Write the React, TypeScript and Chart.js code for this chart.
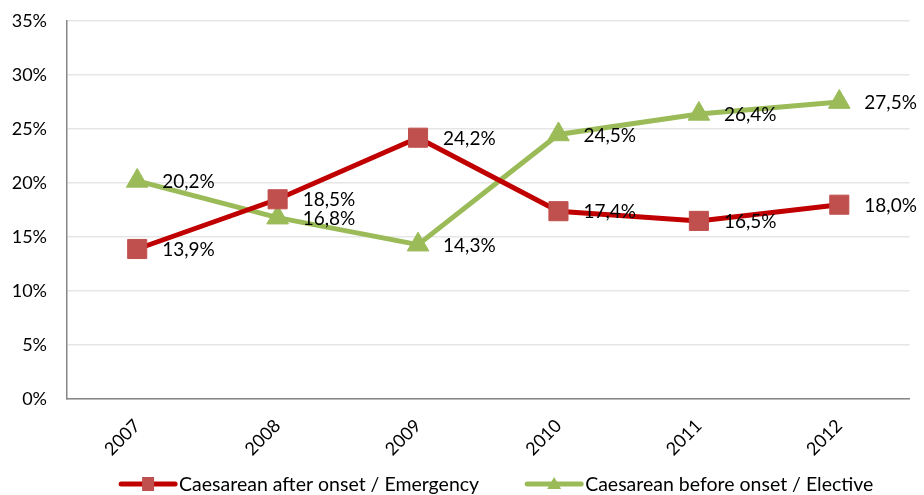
import React, { useEffect, useRef } from 'react';
import { Chart, registerables } from 'chart.js';

Chart.register(...registerables);

const categories = ['2007', '2008', '2009', '2010', '2011', '2012'];
const emergency = [13.9, 18.5, 24.2, 17.4, 16.5, 18.0];
const elective = [20.2, 16.8, 14.3, 24.5, 26.4, 27.5];
const seriesNames = ['Caesarean after onset / Emergency', 'Caesarean before onset / Elective'];

const FONT = 'Lato, "Open Sans", sans-serif';
const RED_LINE = '#C00000';
const RED_MARK = '#C0504D';
const GREEN = '#9BBB59';

const fmt = (v: number) => v.toFixed(1).replace('.', ',') + '%';

const labelPlugin = {
  id: 'pointLabels',
  afterDatasetsDraw(chart: any) {
    const ctx = chart.ctx;
    ctx.save();
    ctx.font = `19px ${FONT}`;
    ctx.fillStyle = '#000';
    ctx.textAlign = 'left';
    ctx.textBaseline = 'middle';
    chart.data.datasets.forEach((ds: any, i: number) => {
      const meta = chart.getDatasetMeta(i);
      meta.data.forEach((pt: any, j: number) => {
        ctx.fillText(fmt(ds.data[j]), pt.x + 25, pt.y + 1);
      });
    });
    ctx.restore();
  },
};

const legendPlugin = {
  id: 'customLegend',
  afterDraw(chart: any) {
    const ctx = chart.ctx;
    const ds = chart.data.datasets;
    ctx.save();
    ctx.font = `19.5px ${FONT}`;
    const sample = 58;
    const gapText = 2;
    const gapItems = 46;
    const widths = ds.map((d: any) => ctx.measureText(d.label).width);
    const total = widths.reduce((a: number, w: number) => a + sample + gapText + w, 0) + gapItems * (ds.length - 1);
    const center = (chart.chartArea.left + chart.chartArea.right) / 2 + 8;
    let x = center - total / 2;
    const y = chart.height - 11;
    ds.forEach((d: any, i: number) => {
      ctx.strokeStyle = d.borderColor;
      ctx.lineWidth = 5;
      ctx.lineCap = 'round';
      ctx.beginPath();
      ctx.moveTo(x + 2, y);
      ctx.lineTo(x + sample - 2, y);
      ctx.stroke();
      ctx.fillStyle = d.pointBackgroundColor;
      const cx = x + sample / 2;
      if (d.pointStyle === 'rect') {
        ctx.fillRect(cx - 6, y - 7, 12, 14);
      } else {
        ctx.beginPath();
        ctx.moveTo(cx, y - 7);
        ctx.lineTo(cx + 7, y + 5);
        ctx.lineTo(cx - 7, y + 5);
        ctx.closePath();
        ctx.fill();
      }
      ctx.fillStyle = '#000';
      ctx.textAlign = 'left';
      ctx.textBaseline = 'middle';
      ctx.fillText(d.label, x + sample + gapText, y + 1);
      x += sample + gapText + widths[i] + gapItems;
    });
    ctx.restore();
  },
};

export default function App() {
  const ref = useRef<HTMLCanvasElement>(null);
  useEffect(() => {
    if (!ref.current) return;
    const chart = new Chart(ref.current, {
      type: 'line',
      data: {
        labels: categories,
        datasets: [
          {
            label: seriesNames[0],
            data: emergency,
            borderColor: RED_LINE,
            backgroundColor: RED_MARK,
            pointBackgroundColor: RED_MARK,
            pointBorderColor: RED_MARK,
            pointStyle: 'rect',
            pointRadius: 13.5,
            pointBorderWidth: 1,
            borderWidth: 5,
            tension: 0,
          },
          {
            label: seriesNames[1],
            data: elective,
            borderColor: GREEN,
            backgroundColor: GREEN,
            pointBackgroundColor: GREEN,
            pointBorderColor: GREEN,
            pointStyle: 'triangle',
            pointRadius: 12.5,
            pointBorderWidth: 1,
            borderWidth: 5,
            tension: 0,
          },
        ],
      },
      options: {
        animation: false,
        responsive: true,
        maintainAspectRatio: false,
        layout: { padding: { top: 21, right: 12, left: 0, bottom: 19 } },
        plugins: {
          legend: { display: false },
          tooltip: { enabled: false },
        },
        scales: {
          x: {
            offset: true,
            grid: { display: false, drawTicks: false },
            border: { color: '#868686', width: 1.5 },
            ticks: {
              font: { family: FONT, size: 18 },
              color: '#000',
              maxRotation: 45,
              minRotation: 45,
              padding: 16,
            },
            afterFit: (scale: any) => {
              scale.paddingLeft = 0;
              scale.paddingRight = 0;
            },
          },
          y: {
            min: 0,
            max: 35,
            grid: { color: '#E6E6E6', lineWidth: 1.5, drawTicks: false },
            border: { color: '#868686', width: 1.5 },
            ticks: {
              stepSize: 5,
              font: { family: FONT, size: 18 },
              color: '#000',
              padding: 20,
              callback: (v: any) => v + '%',
            },
            afterFit: (scale: any) => {
              scale.width = 67;
              scale.paddingTop = 0;
              scale.paddingBottom = 0;
            },
          },
        },
      },
      plugins: [labelPlugin, legendPlugin],
    });
    return () => chart.destroy();
  }, []);
  return (
    <div style={{ position: 'fixed', left: 0, top: 0, width: 924, height: 495, background: '#fff' }}>
      <canvas ref={ref} />
    </div>
  );
}
